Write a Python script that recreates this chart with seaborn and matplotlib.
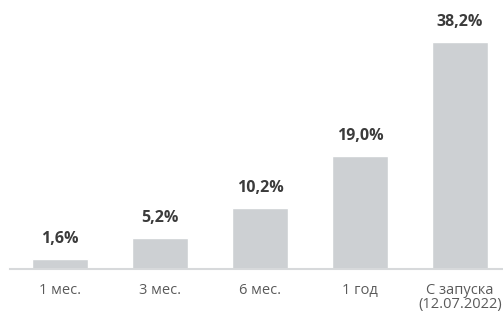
import matplotlib
matplotlib.use("Agg")
import matplotlib.pyplot as plt
import seaborn as sns
import pandas as pd

# data
periods = ["1 мес.", "3 мес.", "6 мес.", "1 год", "С запуска\n(12.07.2022)"]
returns = [1.6, 5.2, 10.2, 19.0, 38.2]
value_labels = ["1,6%", "5,2%", "10,2%", "19,0%", "38,2%"]

bar_color = "#cdd0d3"
text_dark = "#3b3b3b"
text_light = "#5a5a5a"

sns.set_theme(style="white")
plt.rcParams["font.family"] = ["Open Sans", "DejaVu Sans"]

df = pd.DataFrame({"period": periods, "ret": returns})

fig = plt.figure(figsize=(5.03, 3.16), dpi=100)
ax = fig.add_axes([10 / 503, 47 / 316, 493 / 503, 269 / 316])

sns.barplot(data=df, x="period", y="ret", color=bar_color, width=0.56,
            saturation=1, ax=ax)

ax.set_xlim(-0.5, 4.43)
ax.set_ylim(0, 45.3)

for i, (v, lab) in enumerate(zip(returns, value_labels)):
    ax.annotate(lab, (i, v), xytext=(0, 9), textcoords="offset points",
                ha="center", va="bottom", fontsize=11.5, fontweight="bold",
                color=text_dark)

for s in ["top", "right", "left"]:
    ax.spines[s].set_visible(False)
ax.spines["bottom"].set_color("#d7d9db")
ax.spines["bottom"].set_linewidth(1.5)

ax.set_yticks([])
ax.set_xlabel("")
ax.set_ylabel("")
ax.tick_params(axis="x", length=0, pad=10, labelsize=10.5, labelcolor=text_light)
for t in ax.get_xticklabels():
    t.set_linespacing(0.9)
    t.set_verticalalignment("top")

fig.savefig("out.png", dpi=100)
